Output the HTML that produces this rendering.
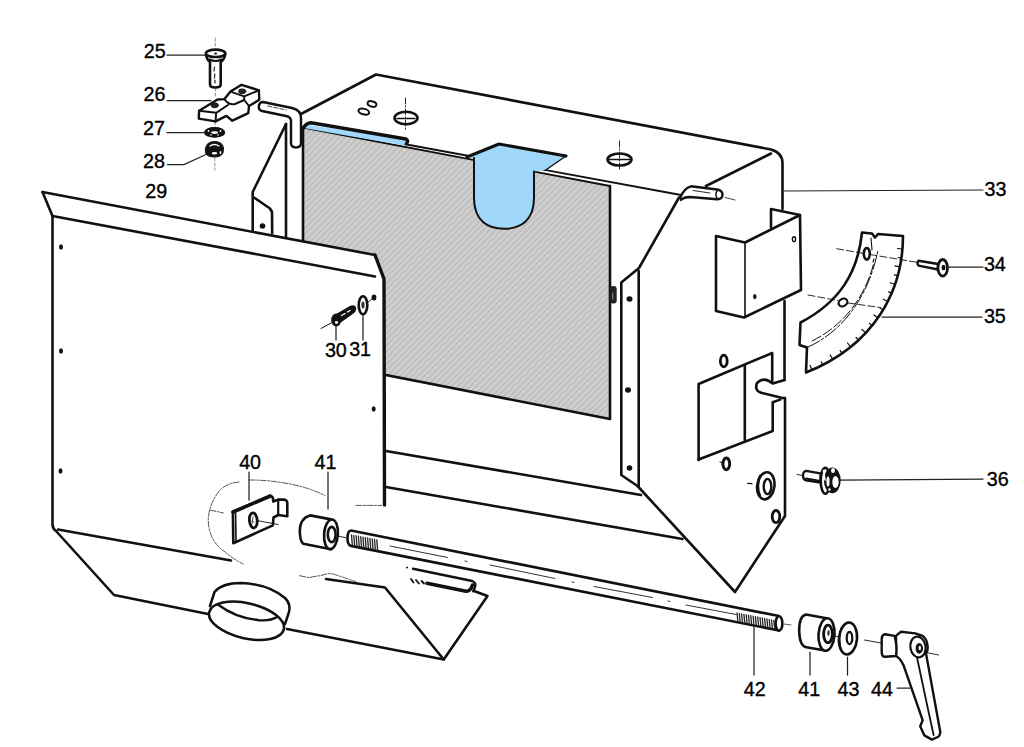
<!DOCTYPE html>
<html><head><meta charset="utf-8">
<style>
html,body{margin:0;padding:0;background:#fff;}
body{width:1024px;height:747px;overflow:hidden;}
svg{display:block;}
text{font-family:"Liberation Sans",sans-serif;font-size:21px;fill:#000;stroke:#000;stroke-width:0.35px;}
</style></head><body>
<svg width="1024" height="747" viewBox="0 0 1024 747">
<defs>
<pattern id="hatch" patternUnits="userSpaceOnUse" width="4.4" height="4.4" patternTransform="rotate(45)">
<rect width="4.4" height="4.4" fill="#c2c2c2"/>
<rect x="0" y="0" width="1.15" height="4.4" fill="#d9d9d9"/>
</pattern>
</defs>
<rect width="1024" height="747" fill="#fff"/>

<!-- ============ CABINET ============ -->
<g id="cabinet" fill="none" stroke="#111" stroke-width="2.6" stroke-linejoin="round" stroke-linecap="round">
  <!-- gray rear panel -->
  <polygon points="303,127 610,186 610,419 303,361" fill="url(#hatch)" stroke="none"/>
  <!-- top back edge + right corner -->
  <path d="M301,114 L376,74.5 L771,149.5 Q782.5,153 782.5,163 L782.5,209"/>
  <!-- top right inner edge -->
  <path d="M771,153.5 L706,186"/>
  <!-- front top edge after blue -->
  <path d="M404,144 L681,195" stroke-width="1.8"/>
  <path d="M303,127.5 L610,186" stroke-width="1.8"/>
  <!-- gray outline -->
  <path d="M303,127 L303,240" />
  <path d="M610,186 L610,419 L386,375" />
  <!-- blue strip -->
  <polygon points="306,124.5 407,140 404,145.5 303.5,128" fill="#a1d7fb" stroke="none"/>
  <path d="M303.5,128 Q306,123 311,122.8 L406,139 Q409,140.5 406.5,143.5" stroke-width="3.4"/>
  <!-- blue U -->
  <path d="M469,157 L499,144 L566,156 L545,170 L534,171.5 L534,198 C534,221 520,228.8 504,228.8 C488,228.8 474,221 474,198 L474,159 Z" fill="#a1d7fb" stroke="none"/>
  <path d="M474,158 L474,198 C474,221 488,228.8 504,228.8 C520,228.8 534,221 534,198 L534,171.5" stroke-width="2"/>
  <path d="M467,157 L499,144 L566,156" stroke-width="3"/>
  <path d="M545,170.5 L566,156"  stroke-width="1.5"/>
  <!-- top holes -->
  <ellipse cx="363.8" cy="111.6" rx="5.5" ry="2.8" transform="rotate(15 363.8 111.6)" stroke-width="2"/>
  <ellipse cx="372" cy="104" rx="4.5" ry="2.6" transform="rotate(15 372 104)" stroke-width="2"/>
  <ellipse cx="406" cy="118" rx="11.5" ry="6.2" stroke-width="2.6"/>
  <path d="M397,118.5 L415,118.5" stroke-width="1.4"/>
  <ellipse cx="619.5" cy="159.5" rx="12" ry="6" stroke-width="2.6"/>
  <path d="M609,159.5 L630,159.5" stroke-width="1.4"/>
  <path d="M405.5,98 L405.5,131 M619.5,141 L619.5,169" stroke-width="0.9" stroke-dasharray="6 2 1 2"/>
  <!-- left flange -->
  <path d="M286,124 L252.7,192 L252.7,231"/>
  <path d="M286,124 L286,238"/>
  <path d="M254,197.5 L270,208.5 L272,212 L272.2,233"/>
  <circle cx="262.5" cy="226" r="2.8" fill="#111" stroke="none"/>
  <!-- pin left -->
  <path d="M263,102 L292,108 Q301,110 301,118 L301,143 Q301,147.5 296,147.5 Q291,147.5 291,143 L291,121 Q291,117 286,116 L262,111 Q258,110 259,105 Q260,102 263,102 Z" fill="#fff" stroke-width="2.4"/>
  <path d="M268,106 L286,110" stroke-width="0.8" stroke-dasharray="4 2"/>
  <!-- right panel -->
  <path d="M679,197.5 L639,268 L621.3,282.5 L621.3,475 L637.5,486 L735,592 L785,516 L785,398"/>
  <path d="M638.7,271 L638.7,486"/>
  <path d="M784.5,380 L784.5,301"/>
  <ellipse cx="629.5" cy="299" rx="3" ry="2.8" fill="#111" stroke="none"/>
  <ellipse cx="628" cy="390" rx="3" ry="2.8" fill="#111" stroke="none"/>
  <ellipse cx="629.5" cy="468" rx="2.8" ry="2.8" fill="#111" stroke="none"/>
  <rect x="610" y="286" width="6.7" height="17.5" rx="3" fill="#222" stroke="none"/>
  <path d="M613,293 Q612,296 613,299" stroke="#888" stroke-width="1"/>
  <!-- pin right -->
  <path d="M680,198 Q684,188 691,186.3 L717,189.5 Q722.5,190.5 722.5,194.5 Q722.5,199.5 717,199.2 L690,197 Q684,197 681,200" fill="#fff" stroke-width="2.4"/>
  <path d="M718,189.8 Q714,194 717.5,199" stroke-width="1.4"/>
  <path d="M693,190.5 L710,193" stroke-width="0.9"/>
  <path d="M725,197.5 L735,200" stroke-width="0.8"/>
  <!-- lower cabinet lines -->
  <path d="M386,451 L641,495"/>
  <path d="M386,487 L682.5,539"/>
  <!-- bracket -->
  <path d="M771,227.5 L771,209 L800,215" />
  <path d="M716,311 L716,236 L745,242.5 L800,215 L801,290 L744,317.5 L716,311" fill="#fff"/>
  <path d="M745,242.5 L745,317" stroke-width="1.6"/>
  <ellipse cx="794" cy="239.2" rx="1.6" ry="2.4" fill="#fff" stroke-width="1.4"/>
  <ellipse cx="754.8" cy="296.6" rx="1.7" ry="2.6" fill="#111" stroke="none"/>
  <!-- lower plate -->
  <path d="M698.6,460 L698.6,384 L772.2,353 L772.2,382.5"/>
  <path d="M744.8,365.2 L744.8,440"/>
  <path d="M784.5,380 L772.7,383.5 Q764,376 757,383 Q754,391 762,393 L782.4,398 L784.5,398"/>
  <path d="M772.7,402.3 L780.2,399.6 M772.7,402.3 L772.7,431 L698.6,459.5"/>
  <ellipse cx="723.8" cy="361" rx="3.4" ry="5.9" stroke-width="2.8"/>
  <ellipse cx="726.3" cy="463.8" rx="3.4" ry="5.9" stroke-width="3"/>
  <path d="M720,462 L722.5,462.5" stroke-width="1"/>
  <ellipse cx="765.8" cy="485.8" rx="8.6" ry="13.6" transform="rotate(8 765.8 485.8)" stroke-width="2.6"/>
  <path d="M760,476 Q756,486 760,496" stroke-width="2.4"/>
  <ellipse cx="767.5" cy="486.5" rx="3.8" ry="7.6" stroke-width="2.4"/>
  <path d="M747.5,483.4 L752,483.6" stroke-width="1.2"/>
  <ellipse cx="776" cy="516.6" rx="3.8" ry="6.1" stroke-width="2.8"/>
</g>

<!-- ============ LEFT PANEL ============ -->
<g id="panel" fill="none" stroke="#111" stroke-width="2.6" stroke-linejoin="round" stroke-linecap="round">
  <path d="M42.5,192 L375,255 L384,279 L384.5,587 L443.75,659.5 L287,629 L208,614 L114,595 L53,527 L52.5,216 Z" fill="#fff" stroke="none"/>
  <path d="M42.5,192 L375,255"/>
  <path d="M375,255 L384,279 L384.5,505" stroke-width="3.4"/>
  <path d="M42.5,192 L52.5,216 L52.5,525 Q53,529 56,531 L114,595 L208,614"/>
  <path d="M287,629 L443.75,659.5"/>
  <path d="M52.5,216 L375,276.5"/>
  <path d="M58,529.5 L231,560.5"/>
  <path d="M326,579 L385,587.5 L443.75,659.5 L487.5,596 L474,591"/>
  <path d="M427,583.2 L466,591.2 Q470.5,591.5 472.5,585" stroke-width="3.6"/>
  <path d="M411,579 L413.5,582.5 M416,580 L419,583.5 M421.5,581 L424,583.5" stroke-width="1.8"/>
  <path d="M413,568.8 L472.3,581 Q476.5,583 475,587 L473.2,591.3" stroke-width="2.4"/>
  <circle cx="407" cy="567.5" r="1" fill="#111" stroke="none"/>
  <ellipse cx="61" cy="247" rx="2" ry="2.7" fill="#111" stroke="none"/>
  <ellipse cx="61" cy="351" rx="2" ry="2.7" fill="#111" stroke="none"/>
  <ellipse cx="60.5" cy="471" rx="2" ry="2.7" fill="#111" stroke="none"/>
  <ellipse cx="374" cy="297.6" rx="2.4" ry="3" fill="#111" stroke="none"/>
  <ellipse cx="373.7" cy="409" rx="2" ry="2.7" fill="#111" stroke="none"/>
  <!-- ring -->
  <path d="M214.5,592 Q222,583 241,583 Q268,584 285,598 Q291,604 289,612 L284.5,624 L254,640 L208.5,614 Z" fill="#fff" stroke="none"/>
  <ellipse cx="246.5" cy="620.8" rx="38.3" ry="17.6" transform="rotate(13 246.5 620.8)" fill="#fff"/>
  <path d="M210,606 L214.5,592 Q222,583 241,583 Q268,584 285,598 Q291,604 289,612 L285,624" stroke-width="2.5"/>
  <path d="M218.6,605 Q236,618 259,620.2 Q271,621 277,617" stroke-width="2.4"/>
</g>

<!-- ============ ROD 42 ============ -->
<g fill="none" stroke="#111" stroke-width="2.6" stroke-linecap="round" stroke-linejoin="round">
  <path d="M351,530.5 L779,616.1 L779,630.5 L351,545.9 Q347.5,545 347.5,538.2 Q347.5,531 351,530.5 Z" fill="#fff"/>
  <ellipse cx="779" cy="623.4" rx="3.4" ry="7.2" fill="#fff" stroke-width="2.6"/>
  <path d="M351.5,534.8 L352.3,544.8 M353.8,535.3 L354.6,545.3 M356.1,535.7 L356.9,545.7 M358.4,536.2 L359.2,546.2 M360.7,536.6 L361.5,546.6 M363.0,537.1 L363.8,547.1 M365.3,537.6 L366.1,547.6 M367.6,538.0 L368.4,548.0 M369.9,538.5 L370.7,548.5 M372.2,538.9 L373.0,548.9 M374.5,539.4 L375.3,549.4 M376.8,539.9 L377.6,549.9 M737.0,612.9 L737.8,620.9 M739.3,613.4 L740.1,621.4 M741.6,613.8 L742.4,621.8 M743.9,614.3 L744.7,622.3 M746.2,614.7 L747.0,622.7 M748.5,615.2 L749.3,623.2 M750.8,615.7 L751.6,623.7 M753.1,616.1 L753.9,624.1 M755.4,616.6 L756.2,624.6 M757.7,617.0 L758.5,625.0 M760.0,617.5 L760.8,625.5 M762.3,618.0 L763.1,626.0 M764.6,618.4 L765.4,626.4 M766.9,618.9 L767.7,626.9 M769.2,619.3 L770.0,627.3 M771.5,619.8 L772.3,627.8 M773.8,620.3 L774.6,628.3" stroke-width="1.3" stroke="#222"/>
  <path d="M390,546 L447.5,557.5 M490,565 L555,578.5 M594,586.5 L652.5,597.5 M686,605 L736,614.5 M465,561 L467,561.5 M572,582 L574,582.5 M668,601 L670,601.5" stroke-width="1" stroke="#333"/>
  <path d="M784,624 L791,625" stroke-width="0.9" stroke="#444"/>
</g>

<!-- ============ PARTS 40 / 41 ============ -->
<g fill="none" stroke="#111" stroke-width="2.6" stroke-linejoin="round" stroke-linecap="round">
  <path d="M239,482 Q228,483 221,489 Q213,498 209.8,509.3 Q206,523 211.7,536.6 Q216,546 224,551 Q233,559 243,564 M249,480 Q265,480 278,482 Q293,484 305.5,487.8 Q316,491 325,495.6 M299.6,575.7 L309.4,577.7 Q315,576 321,575.7 Q327,573 332.8,573.8 Q339,576 344.5,577.7 Q350,580 356,581.5 M356,505.4 L381.6,505.4 M209.8,510 L223.4,513" stroke="#555" stroke-width="1" stroke-dasharray="6 1.5 2 1.5"/>
  <path d="M232.9,511.7 L270.3,495.9 Q272.8,496.5 273,498.5 L273.3,501.5 L278.2,499.6 L284,499.6 Q287.3,500.5 287.3,503 L287.3,516.2 L278.2,515 L273.5,517.5 L272.8,525.4 L233.3,543.2 Z" fill="#fff" stroke-width="2.6"/>
  <path d="M278.2,499.6 L278.2,515" stroke-width="2.2"/>
  <path d="M233,512 L270.3,496" stroke-width="3.6"/>
  <path d="M235.6,513 L236,542" stroke-width="1.6"/>
  <ellipse cx="253.3" cy="520.4" rx="3.9" ry="7.6" transform="rotate(-5 253.3 520.4)" fill="#fff" stroke-width="2.8"/>
  <path d="M253,516.5 L252,524 M252,521 L254,522" stroke="#555" stroke-width="1"/>
  <path d="M258.2,520.8 L278.2,524.5" stroke-width="0.9"/>
  <!-- spacer 41 -->
  <path d="M331,519.4 L310.1,515.4 Q300,518 299.8,531 Q300,542 303.4,543.8 L331,549.2 Z" fill="#fff" stroke-width="2.6"/>
  <ellipse cx="331" cy="534.3" rx="6.9" ry="14.9" transform="rotate(4 331 534.3)" fill="#fff" stroke-width="2.6"/>
  <ellipse cx="331.7" cy="534.5" rx="3.9" ry="7.6" stroke-width="2.6"/>
  <path d="M338.2,536.1 L346,537.8" stroke-width="0.9"/>
</g>

<!-- ============ PARTS 41 43 44 (right) ============ -->
<g fill="none" stroke="#111" stroke-width="2.6" stroke-linejoin="round" stroke-linecap="round">
  
  <path d="M826.5,618.2 L806,614.5 Q799,616 799.2,631 Q799.5,646 806.4,647.2 L826.5,650.8 Z" fill="#fff" stroke-width="2.6"/>
  <ellipse cx="826.5" cy="634.5" rx="8" ry="16.3" transform="rotate(4 826.5 634.5)" fill="#fff" stroke-width="2.6"/>
  <ellipse cx="828" cy="634" rx="4.4" ry="8.8" stroke-width="2.8"/>
  <ellipse cx="828.5" cy="633" rx="1.2" ry="3" fill="#333" stroke="none"/>
  <path d="M835,636 L840,637" stroke-width="0.9"/>
  <ellipse cx="848" cy="638.5" rx="9" ry="16" transform="rotate(5 848 638.5)" fill="#fff" stroke-width="2.6"/>
  <path d="M841,628 Q838,640 842,652" stroke-width="1.2"/>
  <ellipse cx="849.5" cy="638" rx="2.8" ry="6.2" stroke-width="2.2"/>
  <!-- lever 44 -->
  <path d="M864.5,640 L881,643 M926,652.5 L938.5,655" stroke-width="0.9"/>
  <path d="M896,635.9 L901,631.7 L915.2,633.4 L922.7,635.9 Q927,639 927.7,646.8 Q928,651 926,653.4 L940.3,732 Q940,736 937.8,737 L931.9,739.6 L924.4,735.4 L920.2,726.2 L922.7,720.3 L903.5,665.2 Q900,658 896,656 Z" fill="#fff" stroke-width="2.4"/>
  <path d="M894.5,635.9 L885,634.2 Q881.7,635 881.7,639 L881.7,652.6 Q882,656.8 885,656.8 L896,656 Q897.5,646 894.5,635.9 Z" fill="#fff" stroke-width="2.4"/>
  <ellipse cx="918" cy="647" rx="7.6" ry="10.4" transform="rotate(-10 918 647)" stroke-width="2.2" fill="#fff"/>
  <ellipse cx="919.3" cy="648.4" rx="3.2" ry="4.8" fill="#111" stroke-width="1"/>
  <ellipse cx="919.8" cy="648" rx="1.2" ry="2.2" fill="#fff" stroke="none"/>
  <path d="M916.9,657 L928.6,712 L933.6,735" stroke-width="1.8"/>
</g>

<!-- ============ PARTS 25-28 ============ -->
<g fill="none" stroke="#111" stroke-width="2.6" stroke-linejoin="round" stroke-linecap="round">
  <path d="M215.3,38 L215.3,48 M215.3,88 L215.3,97 M215,122 L215,128 M214.8,158 L214.8,170" stroke-width="0.9" stroke="#888" stroke-dasharray="3 2"/>
  <path d="M206,54.5 Q207,60 210,62 L210,84.5 Q210,87.5 215.3,87.5 Q220.7,87.5 220.7,84.5 L220.7,62 Q224,60 225.2,54.5" fill="#fff" stroke-width="2.6"/>
  <ellipse cx="215.6" cy="53.3" rx="9.7" ry="3.7" fill="#fff" stroke-width="2.6"/>
  <path d="M209.5,59.5 Q215.5,62.5 221.5,59.5" stroke-width="2"/>
  <ellipse cx="215.6" cy="53.5" rx="1.5" ry="0.9" fill="#111" stroke="none"/>
  <path d="M214.5,67 L214,71 M214.8,74 L214.5,78 M215,80 L215,83" stroke-width="1.1"/>
  <path d="M199.1,110.8 L198.8,118.6 L215.5,121.4 L226.4,115.9 L232.3,120.7 L248.3,113.2 L249,106 L259.3,99.8 L258.9,90.3 L241.5,84.8 L230.5,91.6 L224.4,99.1 L217.6,99.5 Z" fill="#fff" stroke-width="2.4"/>
  <path d="M199.1,110.8 L216.2,112.8 L228,105 M216.2,112.8 L215.5,121.4 M224.4,99.1 Q229,105.5 235,104 L244.2,100 L244.2,96.4 M230.5,91.6 L244.2,96.4 L258.9,90.3 M244.2,100 L249,106" stroke-width="2"/>
  <ellipse cx="214.8" cy="105.3" rx="3.6" ry="2.4" fill="#222" stroke-width="1"/>
  <ellipse cx="242.2" cy="91.3" rx="3.6" ry="2.4" fill="#222" stroke-width="1"/>
  <ellipse cx="214.6" cy="132.4" rx="10" ry="4.8" fill="#111" stroke-width="1.2"/>
  <ellipse cx="214.6" cy="132.6" rx="3.5" ry="1.3" fill="#fff" stroke="none"/>
  <circle cx="208.5" cy="131" r="0.9" fill="#fff" stroke="none"/><circle cx="220.5" cy="131" r="0.9" fill="#fff" stroke="none"/><circle cx="211" cy="135" r="0.8" fill="#fff" stroke="none"/><circle cx="218" cy="135" r="0.8" fill="#fff" stroke="none"/>
  <path d="M205.5,148 Q207,141.5 214.5,141.5 Q222.5,141.5 223.5,148 L223,153 Q221,157 214.5,157 Q207,157 205.5,153 Z" fill="#111" stroke-width="1"/>
  <path d="M210,146 Q214,143 219,146" stroke="#fff" stroke-width="1.4" fill="none"/>
  <ellipse cx="214.5" cy="153.3" rx="2.8" ry="1.3" fill="#fff" stroke="none"/>
  <ellipse cx="220.5" cy="152.5" rx="0.9" ry="1.6" fill="#fff" stroke="none"/>
  <circle cx="214.5" cy="147.5" r="1.4" fill="#111" stroke="none"/>
</g>

<!-- ============ SMALL PARTS 30 31 34 35 36 ============ -->
<g fill="none" stroke="#111" stroke-width="2.6" stroke-linejoin="round" stroke-linecap="round">
  <!-- 30/31 -->
  <path d="M321,328.5 L333,322" stroke-width="1"/>
  <path d="M335,316 L350.5,307 Q355,305.5 355,309 Q355,311 352,313 L338,323" fill="#111" stroke-width="2.6"/>
  <path d="M341.5,315.5 L345,313.5 M347.5,312 L350,310.5" stroke="#fff" stroke-width="1.3"/>
  <ellipse cx="336.2" cy="320" rx="4" ry="5.6" fill="#111" stroke-width="2"/>
  <ellipse cx="336.5" cy="322.5" rx="1.6" ry="1.4" fill="#fff" stroke="none"/>
  <ellipse cx="363" cy="305.2" rx="4.3" ry="9" fill="#fff" stroke-width="2.6"/>
  <ellipse cx="363" cy="305" rx="1.6" ry="3.4" fill="#333" stroke="none"/>
  <path d="M367,303 L372,299" stroke-width="0.9"/>
  <!-- 34 -->
  <path d="M918.5,260.7 L938,264 L938,269.5 L918.5,265.6 Q916.5,263 918.5,260.7 Z" fill="#fff" stroke-width="2.4"/>
  <ellipse cx="942.7" cy="267.8" rx="4.8" ry="8.3" fill="#fff" stroke-width="2.8"/>
  <ellipse cx="943.5" cy="267.5" rx="1.3" ry="2" fill="#111" stroke-width="1.4"/>
  <!-- 36 -->
  <path d="M797,474.5 L803,475.5" stroke-width="0.9"/>
  <path d="M806,470.8 L820.5,473.4 L820.5,482.6 L806,480.4 Q803,479.5 803,475.5 Q803,471.5 806,470.8 Z" fill="#fff" stroke-width="2.2"/>
  <path d="M806,478.5 L820,481" stroke-width="2"/>
  <ellipse cx="825.3" cy="480.7" rx="4.6" ry="13" fill="#fff" stroke-width="2.6"/>
  <ellipse cx="832.3" cy="480.3" rx="7.3" ry="11.8" fill="#111" stroke-width="2.2"/>
  <path d="M825,480 L823.5,470.5" stroke="#fff" stroke-width="1.6"/>
  <ellipse cx="833" cy="470.5" rx="2" ry="2.6" fill="#fff" stroke="none"/>
  <ellipse cx="828" cy="481.5" rx="1.6" ry="5" fill="#fff" stroke="none"/>
  <ellipse cx="835.5" cy="482" rx="3.2" ry="6" fill="#fff" stroke="none"/>
  <circle cx="829.5" cy="489.5" r="1.2" fill="#fff" stroke="none"/>
  <!-- 35 protractor -->
  <path d="M862,232.5 C858,272 840,302 800.5,322.5 L799.5,345 L807,347.5 L806,372.5 C875,345 903,290 903,236 L878,234 L875,237.5 L872,233.5 Z" fill="#fff" stroke-width="2.6"/>
  <path d="M902.5,249.0 L897.5,248.5 M901.4,258.0 L898.0,257.5 M899.8,266.9 L894.9,265.9 M897.7,275.7 L894.3,274.8 M895.0,284.5 L890.2,282.8 M891.6,293.1 L888.4,291.7 M887.7,301.5 L883.2,299.3 M883.1,309.8 L880.1,308.0 M878.0,317.8 L873.9,314.9 M872.1,325.5 L869.4,323.3 M865.6,332.9 L862.0,329.5 M858.5,340.1 L856.1,337.5 M850.6,346.9 L847.5,343.0 M842.1,353.3 L840.1,350.4 M832.8,359.3 L830.2,355.0 M822.8,364.8 L821.2,361.7 M812.1,370.0 L810.1,365.4" stroke-width="1.2"/>
  <path d="M807,347.5 C840,333 868,300 878,250" stroke-width="1" stroke-dasharray="14 2 3 2"/>
  <path d="M812,341 C845,325 866,295 874,262" stroke-width="1" stroke-dasharray="10 3"/>
  <ellipse cx="866.8" cy="253.8" rx="3" ry="5.8" stroke-width="2.6"/>
  <ellipse cx="843" cy="302.5" rx="4.6" ry="3.6" transform="rotate(-30 843 302.5)" stroke-width="2.2"/>
  <path d="M836.7,248.7 L864,253.5 M870,254.5 L918,262.5 M808,295 L838,300.5 M848,303 L880.5,307.5" stroke-width="0.9" stroke-dasharray="7 3"/>
  <path d="M871,238 L872,250 M874,259 L873,262" stroke-width="1.1"/>
</g>

<!-- ============ LEADERS ============ -->
<g fill="none" stroke="#222" stroke-width="1.25" stroke-linecap="round">
  <path d="M167,55 L205,55"/>
  <path d="M167,100.5 L211,100.5"/>
  <path d="M167,132.5 L205,132.5"/>
  <path d="M167.5,164.5 L184,164.5 L206,154.5"/>
  <path d="M784,191 L983,190"/>
  <path d="M947,267 L983,267"/>
  <path d="M882,317 L982,317"/>
  <path d="M839,480 L983,479"/>
  <path d="M249,472 L249,500"/>
  <path d="M328,472 L328,509"/>
  <path d="M754,626 L754,675"/>
  <path d="M810,652 L810,675"/>
  <path d="M847.5,657 L847.5,675"/>
  <path d="M897,688 L910,688"/>
  <path d="M336,325 L336,340"/>
  <path d="M363,314 L363,340"/>
</g>

<!-- ============ LABELS ============ -->
<g>
  <text transform="translate(143.70,58.22) scale(0.94,1)">25</text>
  <text transform="translate(143.45,100.87) scale(0.94,1)">26</text>
  <text transform="translate(142.95,134.72) scale(0.94,1)">27</text>
  <text transform="translate(142.95,167.57) scale(0.94,1)">28</text>
  <text transform="translate(145.20,197.97) scale(0.94,1)">29</text>
  <text transform="translate(324.90,356.57) scale(0.94,1)">30</text>
  <text transform="translate(349.15,356.37) scale(0.94,1)">31</text>
  <text transform="translate(984.50,196.42) scale(0.94,1)">33</text>
  <text transform="translate(983.90,271.12) scale(0.94,1)">34</text>
  <text transform="translate(983.90,323.27) scale(0.94,1)">35</text>
  <text transform="translate(986.85,486.42) scale(0.94,1)">36</text>
  <text transform="translate(239.15,469.12) scale(0.94,1)">40</text>
  <text transform="translate(314.50,468.87) scale(0.94,1)">41</text>
  <text transform="translate(743.80,695.72) scale(0.94,1)">42</text>
  <text transform="translate(798.30,695.72) scale(0.94,1)">41</text>
  <text transform="translate(837.50,695.72) scale(0.94,1)">43</text>
  <text transform="translate(871.05,695.72) scale(0.94,1)">44</text>
</g>

</svg>
</body></html>
